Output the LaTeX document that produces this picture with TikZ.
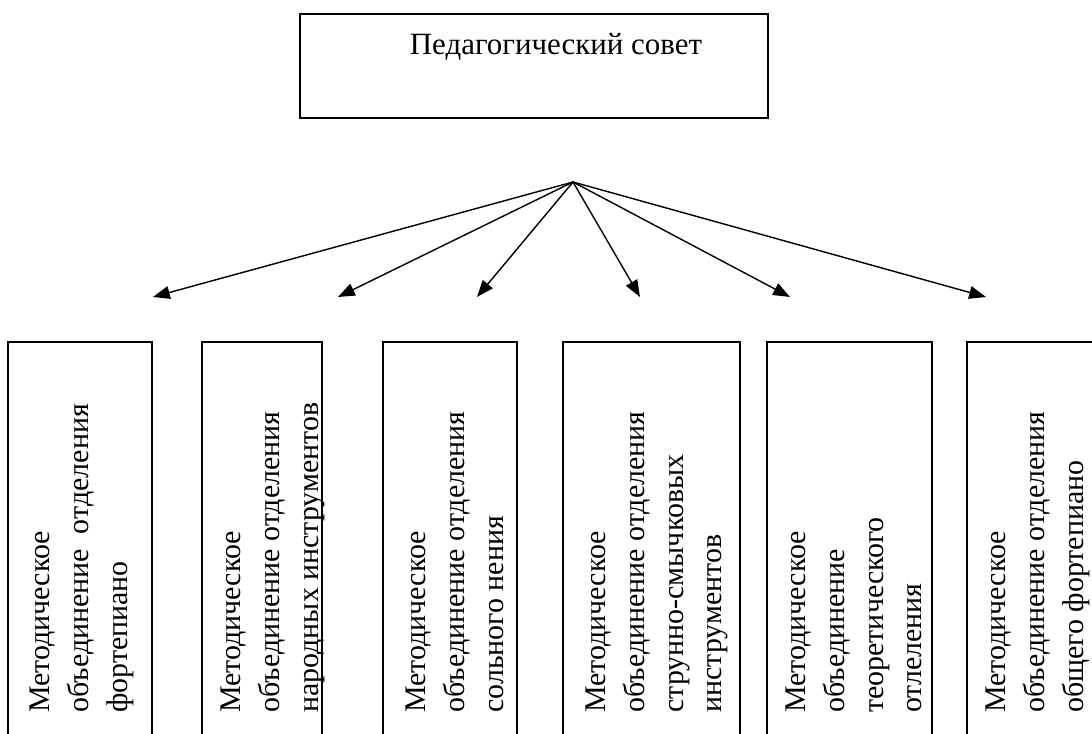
\documentclass[tikz,border=0pt]{standalone}
\usepackage{fontspec}
\setmainfont{Liberation Serif}
\usetikzlibrary{arrows.meta, positioning}

\tikzset{
    unitbox/.style = {draw = black, line width = 1.2pt, rectangle, inner sep = 0pt},
    unittext/.style = {rotate = 90, anchor = north west, align = left, inner sep = 0pt,
        font = \fontsize{21.3}{27.5}\selectfont},
    spoke/.style = {line width = 1pt, -{Triangle[length = 0.42cm, width = 0.32cm]}}
}

\begin{document}
\begin{tikzpicture}
    \useasboundingbox (+0.000, +0.000) rectangle (+27.300, +18.325);
    \clip (+0.000, +0.000) rectangle (+27.300, +18.325);

    % Council on top
    \node[unitbox, minimum width = 11.7cm, minimum height = 2.6cm] (council) at (+13.350, +16.675) {};
    \node[font = \fontsize{22}{27}\selectfont, anchor = base] (councilname) at (+13.900, +16.950) {Педагогический совет};

    % Hub of the arrows
    \coordinate (hub) at (+14.325, +13.775);

    % === Arrow tips from left to right ===
    \coordinate (tip1) at (+3.825, +10.900);
    \coordinate (tip2) at (+8.450, +10.900);
    \coordinate (tip3) at (+11.925, +10.900);
    \coordinate (tip4) at (+16.000, +10.900);
    \coordinate (tip5) at (+19.750, +10.900);
    \coordinate (tip6) at (+24.650, +10.900);

    \draw[spoke] (hub) -- (tip1);
    \draw[spoke] (hub) -- (tip2);
    \draw[spoke] (hub) -- (tip3);
    \draw[spoke] (hub) -- (tip4);
    \draw[spoke] (hub) -- (tip5);
    \draw[spoke] (hub) -- (tip6);

    % === Methodical units from left to right ===
    % Piano
    \node[unitbox, minimum width = 3.600cm, minimum height = 10.275cm] (box1) at (+2.000, +4.6375) {};
    \node[unittext] (label1) at (+0.750, +0.500)
        {Методическое\\объединение\ \ отделения\\фортепиано};

    % Folk instruments
    \node[unitbox, minimum width = 3.000cm, minimum height = 10.275cm] (box2) at (+6.550, +4.6375) {};
    \node[unittext] (label2) at (+5.525, +0.500)
        {Методическое\\объединение отделения\\народных инструментов};

    % Solo singing
    \node[unitbox, minimum width = 3.350cm, minimum height = 10.275cm] (box3) at (+11.250, +4.6375) {};
    \node[unittext] (label3) at (+10.150, +0.500)
        {Методическое\\объединение отделения\\сольного нения};

    % Strings
    \node[unitbox, minimum width = 4.425cm, minimum height = 10.275cm] (box4) at (+16.2875, +4.6375) {};
    \node[unittext] (label4) at (+14.650, +0.500)
        {Методическое\\объединение отделения\\струнно-смычковых\\инструментов};

    % Theory
    \node[unitbox, minimum width = 4.125cm, minimum height = 10.275cm] (box5) at (+21.2375, +4.6375) {};
    \node[unittext] (label5) at (+19.650, +0.500)
        {Методическое\\объединение\\теоретического\\отлеления};

    % General piano
    \node[unitbox, minimum width = 3.425cm, minimum height = 10.275cm] (box6) at (+25.8875, +4.6375) {};
    \node[unittext] (label6) at (+24.650, +0.500)
        {Методическое\\объединение отделения\\общего фортепиано};
\end{tikzpicture}
\end{document}
